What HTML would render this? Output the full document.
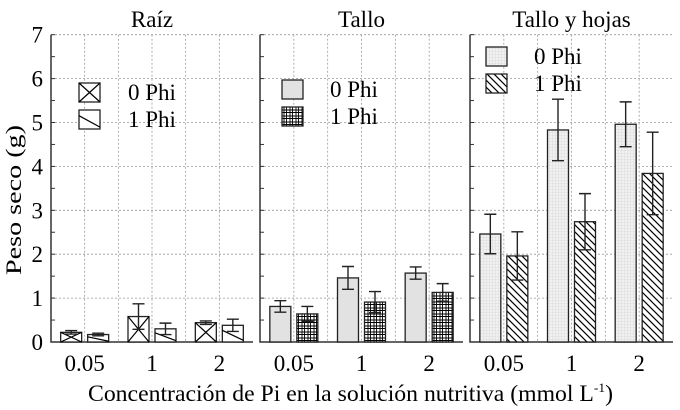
<!DOCTYPE html>
<html><head><meta charset="utf-8">
<style>
html,body{margin:0;padding:0;background:#fff;}
svg{display:block;font-family:"Liberation Serif",serif;}
</style></head>
<body>
<svg id="chart" width="680" height="410" viewBox="0 0 680 410" xmlns="http://www.w3.org/2000/svg">
<defs>
<pattern id="pGrid" width="6" height="6" patternUnits="userSpaceOnUse"><rect width="6" height="6" fill="#fff"/><path d="M2 0V6M4.5 0V6M0 2H6M0 4.5H6" stroke="#000" stroke-width="0.9"/></pattern>
<pattern id="pDots" width="3" height="3" patternUnits="userSpaceOnUse"><rect width="3" height="3" fill="#f1f1f1"/><path d="M0 0.5H3M0.5 0V3" stroke="#ddd" stroke-width="0.6"/></pattern>
<pattern id="pHatch" width="7" height="7" patternUnits="userSpaceOnUse"><rect width="7" height="7" fill="#fff"/><path d="M-1 -1L8 8M-1 6L1 8M6 -1L8 1" stroke="#000" stroke-width="1.2"/></pattern>
</defs>
</svg>
<script>
const categories = ["0.05", "1", "2"];
const panelTitles = ["Raíz", "Tallo", "Tallo y hojas"];
const seriesNames = ["0 Phi", "1 Phi"];
const raiz0 = [0.22, 0.58, 0.44];
const raiz0Err = [0.04, 0.29, 0.04];
const raiz1 = [0.17, 0.30, 0.38];
const raiz1Err = [0.03, 0.13, 0.14];
const tallo0 = [0.81, 1.46, 1.57];
const tallo0Err = [0.13, 0.26, 0.14];
const tallo1 = [0.64, 0.91, 1.13];
const tallo1Err = [0.17, 0.24, 0.20];
const hojas0 = [2.46, 4.83, 4.96];
const hojas0Err = [0.45, 0.70, 0.51];
const hojas1 = [1.96, 2.74, 3.84];
const hojas1Err = [0.55, 0.64, 0.94];
const yTicks = [0, 1, 2, 3, 4, 5, 6, 7];

const NS = "http://www.w3.org/2000/svg";
const svg = document.getElementById("chart");
function mk(tag, attrs, parent) {
  const e = document.createElementNS(NS, tag);
  for (const k in attrs) e.setAttribute(k, attrs[k]);
  (parent || svg).appendChild(e);
  return e;
}
const FS = 23;
const y0 = 342, yTop = 34.7;
function yScale(v) { return y0 - (v / 7) * (y0 - yTop); }
function boxFill(g, x, y, w, h, f) {
  if (f === "cross") {
    mk("path", {d: `M${x} ${y}L${x + w} ${y + h}M${x + w} ${y}L${x} ${y + h}`, stroke: "#000", "stroke-width": 1.2, fill: "none"}, g);
    return "#fff";
  }
  if (f === "diag1") {
    mk("path", {d: `M${x} ${y + h * 0.3}L${x + w} ${y + h * 0.9}`, stroke: "#000", "stroke-width": 1.2, fill: "none"}, g);
    return "#fff";
  }
  return f;
}
const panels = [
  {x0: 51, x1: 253, d: [raiz0, raiz1], e: [raiz0Err, raiz1Err], f: ["cross", "diag1"], leg: [79, 83, 128], key: "raiz"},
  {x0: 260, x1: 463, d: [tallo0, tallo1], e: [tallo0Err, tallo1Err], f: ["#e2e2e2", "url(#pGrid)"], leg: [282, 80, 330], key: "tallo"},
  {x0: 470, x1: 673, d: [hojas0, hojas1], e: [hojas0Err, hojas1Err], f: ["url(#pDots)", "url(#pHatch)"], leg: [486, 47, 534], key: "tallo-hojas"}
];
panels.forEach((p, pi) => {
  const g = mk("g", {});
  
  
  const w = p.x1 - p.x0, step = w / 6;
  for (let i = 1; i < 6; i++) mk("line", {x1: p.x0 + i * step, x2: p.x0 + i * step, y1: yTop, y2: y0, stroke: "#999", "stroke-width": 0.8, "stroke-dasharray": "2,2"}, g);
  yTicks.forEach(t => { if (t > 0) mk("line", {x1: p.x0, x2: p.x1, y1: yScale(t), y2: yScale(t), stroke: "#999", "stroke-width": 0.8, "stroke-dasharray": "2,2"}, g); });
  mk("path", {d: `M${p.x0} ${yTop}V${y0}H${p.x1}`, fill: "none", stroke: "#333", "stroke-width": 1.5}, g);
  for (let t = 0; t <= 7; t += 0.5) {
    mk("line", {x1: p.x0, x2: p.x0 + 4, y1: yScale(t), y2: yScale(t), stroke: "#333", "stroke-width": 1}, g);
  }
  const tt = mk("text", {x: (p.x0 + p.x1) / 2, y: 27, "text-anchor": "middle", "font-size": FS}, g);
  tt.textContent = panelTitles[pi];
  
  
  categories.forEach((c, ci) => {
    const cx = p.x0 + step * (1 + 2 * ci);
    [0, 1].forEach(s => {
      const v = p.d[s][ci], er = p.e[s][ci];
      const bx = s === 0 ? cx - 24 : cx + 3;
      const r = mk("rect", {x: bx, y: yScale(v), width: 21, height: y0 - yScale(v), fill: "#fff", stroke: "#222", "stroke-width": 1.3}, g);
      
      
      r.setAttribute("fill", boxFill(g, bx, yScale(v), 21, y0 - yScale(v), p.f[s]));
      const mx = bx + 10.5;
      const eb = mk("path", {d: `M${mx} ${yScale(v + er)}V${yScale(v - er)}M${mx - 6} ${yScale(v + er)}H${mx + 6}M${mx - 6} ${yScale(v - er)}H${mx + 6}`, stroke: "#222", "stroke-width": 1.4, fill: "none"}, g);
      
      
    });
    const lbl = mk("text", {x: cx, y: 371, "text-anchor": "middle", "font-size": FS}, g);
    lbl.textContent = c;
    
    
  });
  [0, 1].forEach(s => {
    const ly = p.leg[1] + s * 27;
    const lr = mk("rect", {x: p.leg[0], y: ly, width: 21, height: 19, fill: "#fff", stroke: "#222", "stroke-width": 1.3}, g);
    
    
    lr.setAttribute("fill", boxFill(g, p.leg[0], ly, 21, 19, p.f[s]));
    const lt = mk("text", {x: p.leg[2], y: ly + 17, "font-size": FS}, g);
    lt.textContent = seriesNames[s];
    
    
  });
});
yTicks.forEach(t => {
  const tl = mk("text", {x: 43, y: yScale(t) + 8, "text-anchor": "end", "font-size": FS});
  tl.textContent = t;
  
  
});
const yt = mk("text", {x: 0, y: 0, transform: "translate(21,200) rotate(-90)", "text-anchor": "middle", "font-size": 22, textLength: 150, lengthAdjust: "spacingAndGlyphs"});
yt.textContent = "Peso seco (g)";


const xt = mk("text", {x: 88, y: 401, "font-size": 23, textLength: 525, lengthAdjust: "spacingAndGlyphs"});
xt.innerHTML = 'Concentración de Pi en la solución nutritiva (mmol L<tspan dy="-9" font-size="13">-1</tspan><tspan dy="9">)</tspan>';


</script>
</body></html>
